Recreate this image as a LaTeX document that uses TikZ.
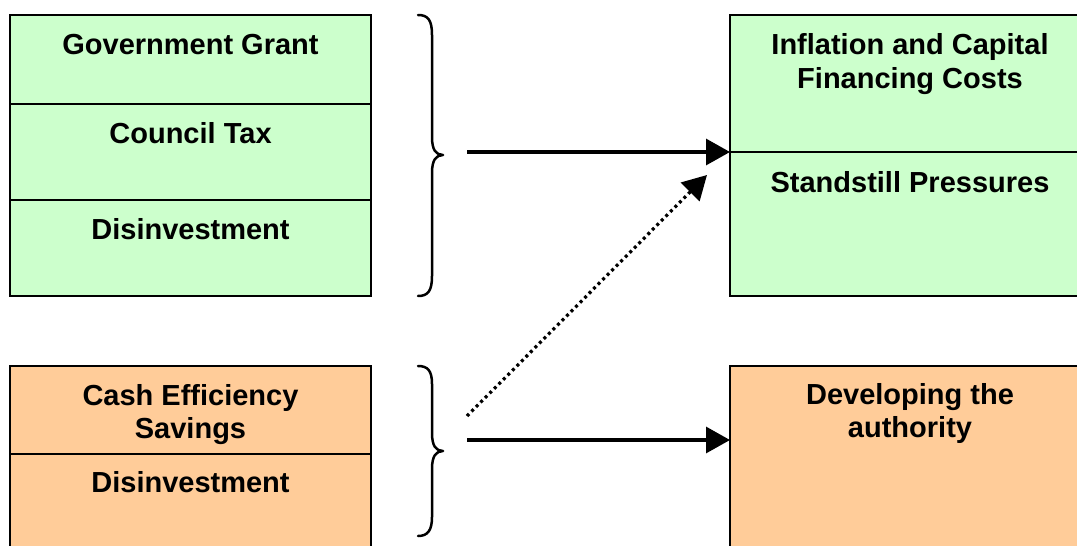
\documentclass[tikz,border=0pt]{standalone}
\usepackage{fontspec}
\setmainfont{Liberation Sans}
\usetikzlibrary{arrows.meta}
\definecolor{cellgreen}{HTML}{CCFFCC}
\definecolor{cellorange}{HTML}{FFCC99}
\tikzset{
  cell/.style={draw=black, line width=1.2pt, anchor=north west,
    inner sep=0pt, outer sep=0pt},
  greencell/.style={cell, fill=cellgreen},
  orangecell/.style={cell, fill=cellorange},
  % anchor=base of a two-line label sits on its last line
  celltext/.style={font=\bfseries\fontsize{29}{33.5}\selectfont,
    align=center, anchor=base, inner sep=0pt},
  bracestroke/.style={line width=2.5pt, line cap=round, line join=round},
  flow/.style={line width=3.2pt, -{Triangle[length=24pt,width=26pt]}},
  hint/.style={flow, dash pattern=on 3pt off 3.4pt},
}
\begin{document}
\begin{tikzpicture}[x=1pt, y=-1pt]
\useasboundingbox (0,0) rectangle (1077,546);

% resources (left, top)
\node[greencell, minimum width=361pt, minimum height=89pt] (grant) at (10,15) {};
\node[greencell, minimum width=361pt, minimum height=96pt] (ctax) at (10,104) {};
\node[greencell, minimum width=361pt, minimum height=96pt] (disinv) at (10,200) {};
\node[celltext] (tgrant) at (190.5,54.5) {Government Grant};
\node[celltext] (tctax) at (190.5,143) {Council Tax};
\node[celltext] (tdisinv) at (190.5,239) {Disinvestment};

% savings (left, bottom)
\node[orangecell, minimum width=361pt, minimum height=88pt] (cash) at (10,366) {};
\node[orangecell, minimum width=361pt, minimum height=110pt] (disinvb) at (10,454) {};
\node[celltext] (tcash) at (190.5,438.5) {Cash Efficiency\\Savings};
\node[celltext] (tdisinvb) at (190.5,492) {Disinvestment};

% pressures (right, top)
\node[greencell, minimum width=360pt, minimum height=137pt] (infl) at (730,15) {};
\node[greencell, minimum width=360pt, minimum height=144pt] (stand) at (730,152) {};
\node[celltext] (tinfl) at (910,88) {Inflation and Capital\\Financing Costs};
\node[celltext] (tstand) at (910,192.5) {Standstill Pressures};

% development (right, bottom)
\node[orangecell, minimum width=360pt, minimum height=200pt] (dev) at (730,366) {};
\node[celltext] (tdev) at (910,437.5) {Developing the\\authority};

% braces grouping the left-hand cells
\draw[bracestroke] (418,15) .. controls (428,15) and (432,20) .. (432,35)
  -- (432,137) .. controls (432,150) and (436,155) .. (443,155)
  .. controls (436,155) and (432,160) .. (432,173)
  -- (432,276) .. controls (432,291) and (428,296) .. (418,296);
\draw[bracestroke] (418,366) .. controls (428,366) and (432,371) .. (432,384)
  -- (432,433) .. controls (432,446) and (436,451) .. (443,451)
  .. controls (436,451) and (432,456) .. (432,469)
  -- (432,517) .. controls (432,530) and (428,536) .. (418,536);

% connectors
\coordinate (fromtop) at (467,152);
\coordinate (frombottom) at (467,440);
\coordinate (fromhint) at (467,416);
\coordinate (hinttip) at (707,175);
\draw[flow] (fromtop) -- (infl.south west);
\draw[flow] (frombottom) -- (frombottom -| dev.west);
\draw[hint] (fromhint) -- (hinttip);
\end{tikzpicture}
\end{document}
